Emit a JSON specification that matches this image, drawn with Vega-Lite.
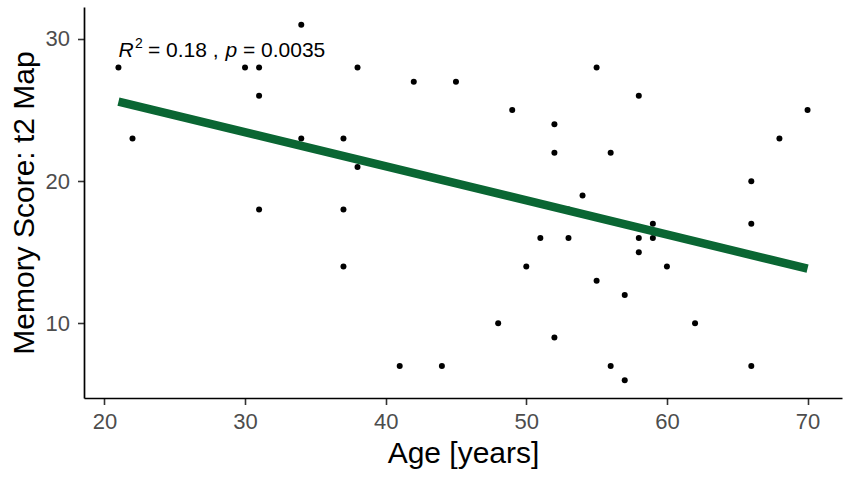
{
  "$schema": "https://vega.github.io/schema/vega-lite/v6.json",
  "width": 758,
  "height": 391,
  "autosize": "none",
  "padding": {"left": 84, "top": 7, "right": 9, "bottom": 80},
  "background": "white",
  "datasets": {
    "memory": [
      {"age": 21, "score": 28}, {"age": 22, "score": 23}, {"age": 30, "score": 28},
      {"age": 31, "score": 28}, {"age": 31, "score": 26}, {"age": 31, "score": 18},
      {"age": 34, "score": 31}, {"age": 34, "score": 23}, {"age": 37, "score": 23},
      {"age": 37, "score": 18}, {"age": 37, "score": 14}, {"age": 38, "score": 28},
      {"age": 38, "score": 21}, {"age": 41, "score": 7}, {"age": 42, "score": 27},
      {"age": 44, "score": 7}, {"age": 45, "score": 27}, {"age": 48, "score": 10},
      {"age": 49, "score": 25}, {"age": 50, "score": 14}, {"age": 51, "score": 16},
      {"age": 52, "score": 24}, {"age": 52, "score": 22}, {"age": 52, "score": 9},
      {"age": 53, "score": 16}, {"age": 53, "score": 18}, {"age": 54, "score": 19},
      {"age": 55, "score": 28}, {"age": 55, "score": 13}, {"age": 56, "score": 22},
      {"age": 56, "score": 7}, {"age": 57, "score": 12}, {"age": 57, "score": 6},
      {"age": 58, "score": 26}, {"age": 58, "score": 16}, {"age": 58, "score": 15},
      {"age": 59, "score": 17}, {"age": 59, "score": 16}, {"age": 60, "score": 14},
      {"age": 62, "score": 10}, {"age": 66, "score": 20}, {"age": 66, "score": 17},
      {"age": 66, "score": 7}, {"age": 68, "score": 23}, {"age": 70, "score": 25}
    ],
    "fit": [
      {"age": 21, "score": 25.6},
      {"age": 70, "score": 13.85}
    ],
    "label": [
      {"age": 21, "score": 28.75}
    ]
  },
  "layer": [
    {
      "data": {"name": "memory"},
      "mark": {"type": "circle", "color": "black", "opacity": 1, "size": 36},
      "encoding": {
        "x": {
          "field": "age", "type": "quantitative",
          "scale": {"domain": [18.55, 72.45], "nice": false, "zero": false},
          "axis": {"values": [20, 30, 40, 50, 60, 70], "title": "Age [years]"}
        },
        "y": {
          "field": "score", "type": "quantitative",
          "scale": {"domain": [4.75, 32.25], "nice": false, "zero": false},
          "axis": {"values": [10, 20, 30], "title": "Memory Score: t2 Map"}
        }
      }
    },
    {
      "data": {"name": "fit"},
      "mark": {"type": "line", "color": "#0a6633", "strokeWidth": 8.5, "strokeCap": "butt"},
      "encoding": {
        "x": {"field": "age", "type": "quantitative"},
        "y": {"field": "score", "type": "quantitative"}
      }
    },
    {
      "data": {"name": "label"},
      "mark": {"type": "text", "text": "R", "fontStyle": "italic", "align": "left", "baseline": "alphabetic", "fontSize": 21, "font": "Liberation Sans", "dx": 0},
      "encoding": {"x": {"field": "age", "type": "quantitative"}, "y": {"field": "score", "type": "quantitative"}}
    },
    {
      "data": {"name": "label"},
      "mark": {"type": "text", "text": "2", "align": "left", "baseline": "alphabetic", "fontSize": 14, "font": "Liberation Sans", "dx": 16.5, "dy": -9},
      "encoding": {"x": {"field": "age", "type": "quantitative"}, "y": {"field": "score", "type": "quantitative"}}
    },
    {
      "data": {"name": "label"},
      "mark": {"type": "text", "text": "= 0.18 ,", "align": "left", "baseline": "alphabetic", "fontSize": 21, "font": "Liberation Sans", "dx": 29.5},
      "encoding": {"x": {"field": "age", "type": "quantitative"}, "y": {"field": "score", "type": "quantitative"}}
    },
    {
      "data": {"name": "label"},
      "mark": {"type": "text", "text": "p", "fontStyle": "italic", "align": "left", "baseline": "alphabetic", "fontSize": 21, "font": "Liberation Sans", "dx": 107},
      "encoding": {"x": {"field": "age", "type": "quantitative"}, "y": {"field": "score", "type": "quantitative"}}
    },
    {
      "data": {"name": "label"},
      "mark": {"type": "text", "text": "= 0.0035", "align": "left", "baseline": "alphabetic", "fontSize": 21, "font": "Liberation Sans", "dx": 124.5},
      "encoding": {"x": {"field": "age", "type": "quantitative"}, "y": {"field": "score", "type": "quantitative"}}
    }
  ],
  "config": {
    "view": {"stroke": null},
    "font": "Liberation Sans",
    "axis": {
      "grid": false,
      "domainColor": "black",
      "domainWidth": 1.7,
      "tickColor": "#333333",
      "tickWidth": 1.6,
      "tickSize": 6.5,
      "labelFont": "Liberation Sans",
      "labelFontSize": 22,
      "labelColor": "#4d4d4d",
      "labelPadding": 7,
      "titleFont": "Liberation Sans",
      "titleFontSize": 30,
      "titleFontWeight": "normal",
      "titleColor": "black"
    },
    "axisX": {"titlePadding": 6},
    "axisY": {"titlePadding": 6, "labelPadding": 8}
  }
}
